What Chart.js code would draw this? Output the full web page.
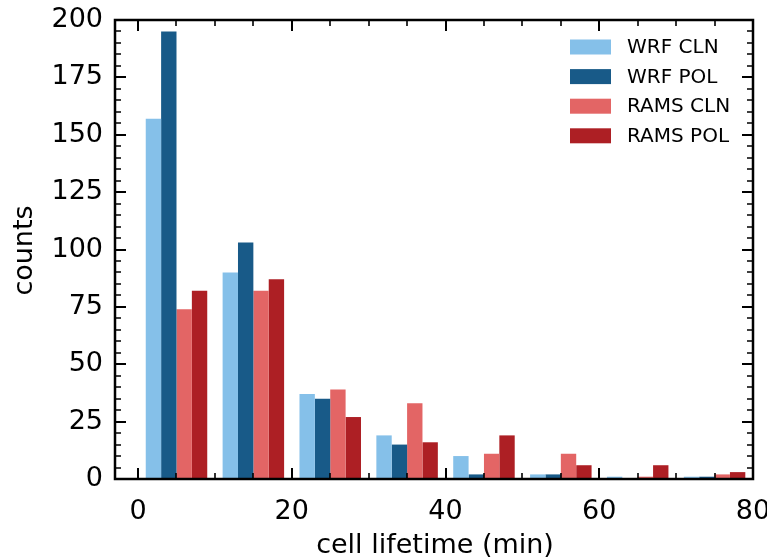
<!DOCTYPE html>
<html>
<head>
<meta charset="utf-8">
<script src="https://cdn.jsdelivr.net/npm/chart.js@4/dist/chart.umd.min.js"></script>
<style>
  html, body { margin: 0; padding: 0; background: #ffffff; }
  #wrap { width: 767px; height: 559px; }
</style>
</head>
<body>
<div id="wrap"><canvas id="c" width="767" height="559"></canvas></div>
<script>
// Histogram bins (10-minute wide), centred on these lifetimes
const binCenters = [5, 15, 25, 35, 45, 55, 65, 75];

// Cell counts per bin for each model run
const wrfCln  = [157, 90, 37, 19, 10, 2, 1, 1];
const wrfPol  = [195, 103, 35, 15, 2, 2, 0, 1];
const ramsCln = [74, 82, 39, 33, 11, 11, 1, 2];
const ramsPol = [82, 87, 27, 16, 19, 6, 6, 3];

const seriesNames = ['WRF CLN', 'WRF POL', 'RAMS CLN', 'RAMS POL'];
const seriesColors = ['#85c0e9', '#185a88', '#e36565', '#ad1f24'];

// Axis ticks
const xMajorTicks = [0, 20, 40, 60, 80];
const xMinorTicks = [5, 10, 15, 25, 30, 35, 45, 50, 55, 65, 70, 75];
const yMajorTicks = [0, 25, 50, 75, 100, 125, 150, 175, 200];
const yMinorTicks = [5, 10, 15, 20, 30, 35, 40, 45, 55, 60, 65, 70, 80, 85, 90, 95,
                     105, 110, 115, 120, 130, 135, 140, 145, 155, 160, 165, 170,
                     180, 185, 190, 195];

const FONT = 'DejaVu Sans';

function toPoints(values) {
  return binCenters.map((x, i) => ({ x: x, y: values[i] }));
}

// Frame with inward ticks on all four sides, axis titles and the legend
const framePlugin = {
  id: 'frame',
  afterDraw(chart) {
    const ctx = chart.ctx;
    const a = chart.chartArea;
    const xs = chart.scales.x, ys = chart.scales.y;
    ctx.save();
    ctx.strokeStyle = '#000';
    ctx.lineCap = 'butt';

    const tick = (len, w, list, horizontal) => {
      ctx.lineWidth = w;
      ctx.beginPath();
      list.forEach(v => {
        if (horizontal) {
          const px = Math.round(xs.getPixelForValue(v));
          ctx.moveTo(px, a.bottom); ctx.lineTo(px, a.bottom - len);
          ctx.moveTo(px, a.top); ctx.lineTo(px, a.top + len);
        } else {
          const py = Math.round(ys.getPixelForValue(v));
          ctx.moveTo(a.left, py); ctx.lineTo(a.left + len, py);
          ctx.moveTo(a.right, py); ctx.lineTo(a.right - len, py);
        }
      });
      ctx.stroke();
    };
    tick(11, 2, xMajorTicks, true);
    tick(6, 1.6, xMinorTicks, true);
    tick(11, 2, yMajorTicks, false);
    tick(6, 1.6, yMinorTicks, false);

    ctx.lineWidth = 2.5;
    ctx.strokeRect(a.left, a.top, a.right - a.left, a.bottom - a.top);

    // axis titles
    ctx.fillStyle = '#000';
    ctx.font = '27px "' + FONT + '"';
    ctx.textAlign = 'center';
    ctx.textBaseline = 'middle';
    ctx.fillText('cell lifetime (min)', (a.left + a.right) / 2 + 1, 546);
    ctx.save();
    ctx.translate(25, (a.top + a.bottom) / 2 + 1);
    ctx.rotate(-Math.PI / 2);
    ctx.fillText('counts', 0, 0);
    ctx.restore();

    // legend
    ctx.font = '20px "' + FONT + '"';
    ctx.textAlign = 'left';
    const boxLeft = a.right - 183;
    chart.data.datasets.forEach((ds, i) => {
      const cy = a.top + 27 + i * 29.6;
      ctx.fillStyle = ds.backgroundColor;
      ctx.fillRect(boxLeft, cy - 7.5, 41, 15);
      ctx.fillStyle = '#000';
      ctx.fillText(ds.label, boxLeft + 57, cy + 1);
    });
    ctx.restore();
  }
};

new Chart(document.getElementById('c'), {
  type: 'bar',
  data: {
    datasets: [wrfCln, wrfPol, ramsCln, ramsPol].map((vals, i) => ({
      label: seriesNames[i],
      data: toPoints(vals),
      backgroundColor: seriesColors[i],
      borderWidth: 0,
      categoryPercentage: 0.8,
      barPercentage: 1.0
    }))
  },
  options: {
    responsive: false,
    animation: false,
    layout: { padding: { top: 20, right: 14, left: 0, bottom: 0 } },
    plugins: { legend: { display: false }, tooltip: { enabled: false } },
    scales: {
      x: {
        type: 'linear',
        min: -3,
        max: 80,
        offset: false,
        grid: { display: false, drawTicks: false },
        border: { display: false },
        ticks: {
          stepSize: 20,
          includeBounds: false,
          color: '#000',
          font: { family: FONT, size: 27 },
          padding: 17,
          maxRotation: 0
        },
        afterBuildTicks(scale) { scale.ticks = xMajorTicks.map(v => ({ value: v })); },
        afterFit(scale) { scale.height = 80; scale.paddingLeft = 0; scale.paddingRight = 0; }
      },
      y: {
        min: 0,
        max: 200,
        grid: { display: false, drawTicks: false },
        border: { display: false },
        ticks: {
          stepSize: 25,
          color: '#000',
          font: { family: FONT, size: 27 },
          padding: 12
        },
        afterBuildTicks(scale) { scale.ticks = yMajorTicks.map(v => ({ value: v })); },
        afterFit(scale) { scale.width = 115; scale.paddingTop = 0; scale.paddingBottom = 0; }
      }
    }
  },
  plugins: [framePlugin]
});
</script>
</body>
</html>
